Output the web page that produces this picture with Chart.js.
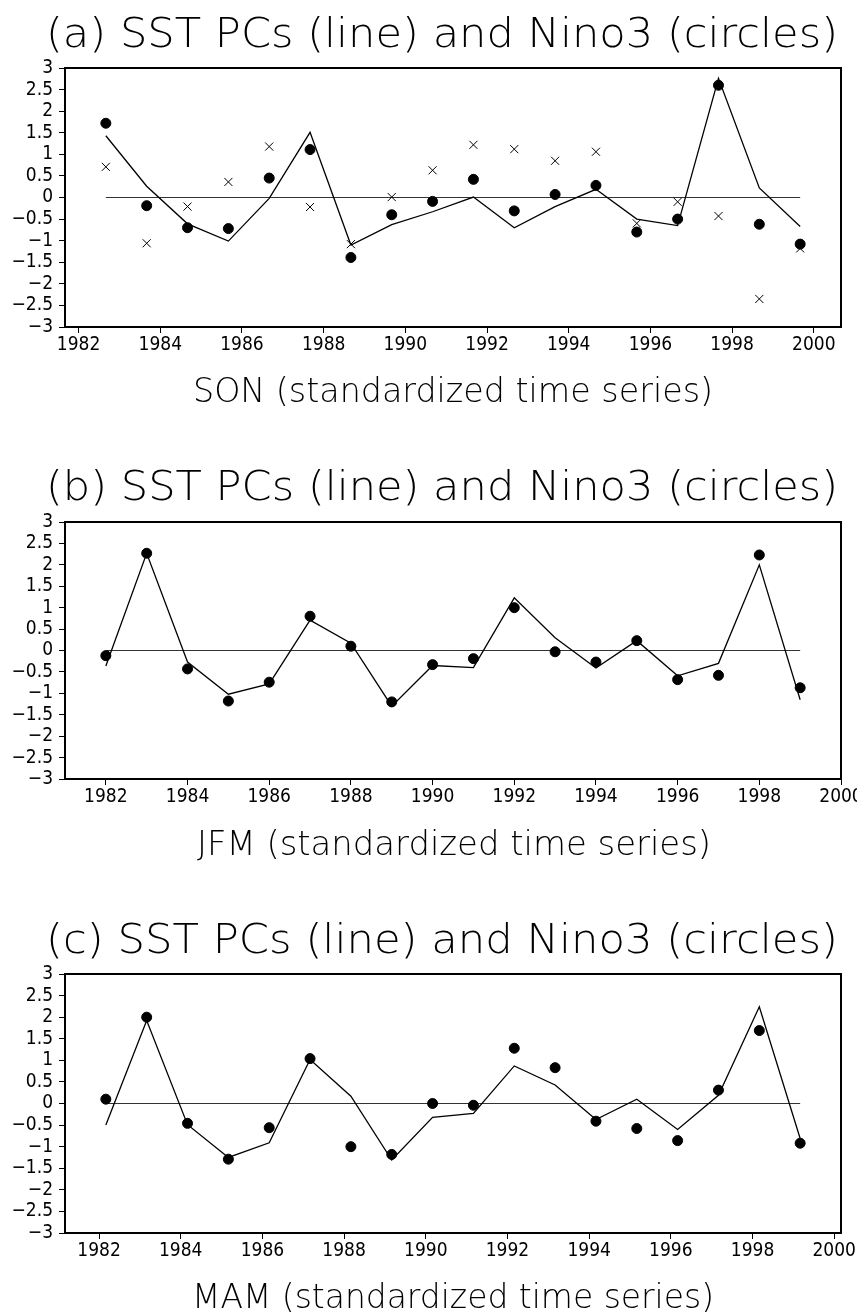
<!DOCTYPE html>
<html><head><meta charset="utf-8">
<script src="https://cdn.jsdelivr.net/npm/chart.js@4/dist/chart.umd.min.js"></script>
<style>
html,body{margin:0;padding:0;background:#fff;}
#wrap{position:relative;width:857px;height:1316px;overflow:hidden;background:#fff;}
canvas{position:absolute;left:0;}
</style></head><body>
<div id="wrap">
<canvas id="ca" width="857" height="454" style="top:0px"></canvas>
<canvas id="cb" width="857" height="452" style="top:454px"></canvas>
<canvas id="cc" width="857" height="410" style="top:906px"></canvas>
</div>
<script>
// ---------------- data ----------------
const years = [1982,1983,1984,1985,1986,1987,1988,1989,1990,1991,1992,1993,1994,1995,1996,1997,1998,1999];
const xTickValues = [1982,1984,1986,1988,1990,1992,1994,1996,1998,2000];
const yTickValues = [-3,-2.5,-2,-1.5,-1,-0.5,0,0.5,1,1.5,2,2.5,3];
const yTickLabels = ['\u22123','\u22122.5','\u22122','\u22121.5','\u22121','\u22120.5','0','0.5','1','1.5','2','2.5','3'];
const titles = ['(a) SST PCs (line) and Nino3 (circles)','(b) SST PCs (line) and Nino3 (circles)','(c) SST PCs (line) and Nino3 (circles)'];
const subtitles = ['SON (standardized time series)','JFM (standardized time series)','MAM (standardized time series)'];
const seasonStartMonth = [9, 1, 3];   // SON, JFM, MAM

// SON
const pcSON    = [1.43,0.26,-0.61,-1.01,-0.02,1.51,-1.10,-0.63,-0.33,0.01,-0.70,-0.21,0.19,-0.50,-0.65,2.76,0.22,-0.67];
const nino3SON = [1.72,-0.19,-0.70,-0.72,0.45,1.11,-1.39,-0.40,-0.09,0.42,-0.31,0.07,0.28,-0.80,-0.50,2.60,-0.62,-1.08];
const crossSON = [0.71,-1.06,-0.21,0.36,1.18,-0.22,-1.08,0.01,0.63,1.22,1.12,0.85,1.06,-0.60,-0.10,-0.43,-2.35,-1.18];
// JFM
const pcJFM    = [-0.36,2.27,-0.27,-1.02,-0.78,0.71,0.17,-1.30,-0.35,-0.40,1.23,0.30,-0.41,0.23,-0.59,-0.30,2.00,-1.15];
const nino3JFM = [-0.12,2.27,-0.43,-1.18,-0.74,0.80,0.10,-1.20,-0.33,-0.19,1.00,-0.03,-0.27,0.23,-0.68,-0.58,2.23,-0.87];
// MAM
const pcMAM    = [-0.50,1.92,-0.49,-1.25,-0.91,1.02,0.17,-1.31,-0.32,-0.23,0.87,0.43,-0.37,0.10,-0.60,0.19,2.24,-0.81];
const nino3MAM = [0.10,2.00,-0.46,-1.29,-0.56,1.04,-1.00,-1.18,0.00,-0.04,1.28,0.83,-0.41,-0.58,-0.86,0.31,1.69,-0.92];

// ---------------- drawing ----------------
const FONT_TEXT = '"DejaVu Sans", "Liberation Sans", sans-serif';
const FONT_TICK = '"DejaVu Sans Condensed", "DejaVu Sans", sans-serif';

function drawFitted(ctx, text, x0, x1, baseline, size) {
  ctx.save();
  ctx.font = '200 ' + size + 'px ' + FONT_TEXT;
  ctx.fillStyle = '#000';
  ctx.textBaseline = 'alphabetic';
  ctx.textAlign = 'left';
  const w = ctx.measureText(text).width;
  ctx.translate(x0, baseline);
  ctx.scale((x1 - x0) / w, 1);
  ctx.fillText(text, 0, 0);
  ctx.restore();
}

function makePanel(canvasId, idx, pc, nino, cross, layout) {
  const off = (seasonStartMonth[idx] - 1) / 12;
  const xs = years.map(y => y + off);
  const toPts = arr => arr.map((v, i) => ({x: xs[i], y: v}));
  const datasets = [
    {label: 'Nino3', data: toPts(nino), showLine: false, pointStyle: 'circle', pointRadius: 5,
     pointBackgroundColor: '#000', pointBorderColor: '#000', pointBorderWidth: 1}
  ];
  if (cross) {
    datasets.push({label: 'x', data: toPts(cross), showLine: false, pointStyle: 'crossRot', pointRadius: 5.7,
      pointBorderColor: '#000', pointBorderWidth: 1, pointBackgroundColor: '#000'});
  }
  datasets.push({label: 'PC', data: toPts(pc), showLine: true, borderColor: '#000', borderWidth: 1.3,
    pointRadius: 0, tension: 0, fill: false});
  datasets.push({label: 'zero', data: [{x: xs[0], y: 0}, {x: xs[xs.length - 1], y: 0}], showLine: true,
    borderColor: '#333', borderWidth: 1, pointRadius: 0, fill: false});

  const H = document.getElementById(canvasId).height;
  const XH = 30;
  const textPlugin = {
    id: 'texts' + idx,
    afterDraw(chart) {
      const ctx = chart.ctx;
      const a = chart.chartArea;
      ctx.save();
      ctx.strokeStyle = '#000';
      ctx.lineWidth = 2;
      ctx.strokeRect(a.left, a.top, a.right - a.left, a.bottom - a.top);
      ctx.restore();
      drawFitted(ctx, titles[idx], layout.tx0, layout.tx1, layout.tBase, 40);
      drawFitted(ctx, subtitles[idx], layout.sx0, layout.sx1, layout.sBase, 34);
    }
  };

  new Chart(document.getElementById(canvasId), {
    type: 'scatter',
    data: {datasets},
    options: {
      responsive: false, animation: false, devicePixelRatio: 1,
      events: [],
      layout: {padding: {top: layout.top, left: 0, right: 16, bottom: H - layout.bottom - XH}},
      plugins: {legend: {display: false}, tooltip: {enabled: false}, title: {display: false}},
      scales: {
        x: {
          type: 'linear', min: xs[0] - 1, max: xs[xs.length - 1] + 1,
          afterBuildTicks: s => { s.ticks = xTickValues.map(v => ({value: v})); },
          afterFit: s => { s.height = XH; s.paddingLeft = 0; s.paddingRight = 0; },
          border: {display: false},
          grid: {drawOnChartArea: false, drawTicks: true, tickLength: 6, color: '#000', lineWidth: 1},
          ticks: {autoSkip: false, maxRotation: 0, padding: 1, color: '#000',
                  font: {family: FONT_TICK, size: 19}, callback: v => String(v)}
        },
        y: {
          min: -3, max: 3,
          afterBuildTicks: s => { s.ticks = yTickValues.map(v => ({value: v})); },
          afterFit: s => { s.width = 65; s.paddingTop = 0; s.paddingBottom = 0; },
          border: {display: false},
          grid: {drawOnChartArea: false, drawTicks: true, tickLength: 6, color: '#000', lineWidth: 1},
          ticks: {autoSkip: false, padding: 6, color: '#000',
                  font: {family: FONT_TICK, size: 19}, callback: (v, i) => yTickLabels[i]}
        }
      }
    },
    plugins: [textPlugin]
  });
}

makePanel('ca', 0, pcSON, nino3SON, crossSON, {top: 68, bottom: 327, tx0: 46, tx1: 838, tBase: 47, sx0: 193, sx1: 713, sBase: 402});
makePanel('cb', 1, pcJFM, nino3JFM, null,     {top: 68, bottom: 325, tx0: 46, tx1: 838, tBase: 46, sx0: 197, sx1: 711, sBase: 401});
makePanel('cc', 2, pcMAM, nino3MAM, null,     {top: 68, bottom: 327, tx0: 46, tx1: 838, tBase: 47, sx0: 192, sx1: 714, sBase: 402});
</script>
</body></html>
